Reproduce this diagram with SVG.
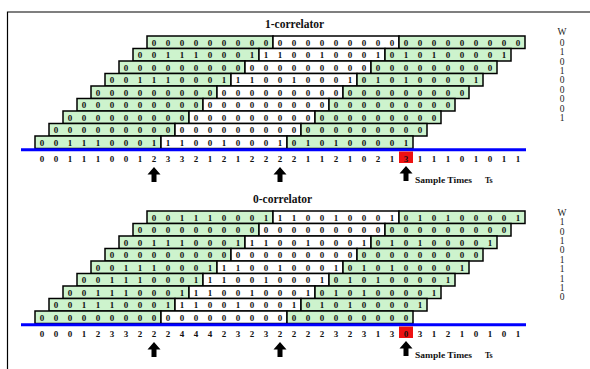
<svg xmlns="http://www.w3.org/2000/svg" xmlns:xlink="http://www.w3.org/1999/xlink" width="590" height="369" viewBox="0 0 590 369">
<style>
.g{fill:#cdf3cd;stroke:#000;stroke-width:1.5}
.w{fill:#fff;stroke:#000;stroke-width:1.5}
.d{font-family:"Liberation Serif","DejaVu Serif",serif;font-weight:bold;font-size:9px;text-anchor:middle;fill:#111}
.n{font-family:"Liberation Serif","DejaVu Serif",serif;font-weight:bold;font-size:9px;text-anchor:middle;fill:#111}
.t{font-family:"Liberation Serif","DejaVu Serif",serif;font-weight:bold;font-size:11.5px;fill:#111}
.wc{font-family:"Liberation Serif","DejaVu Serif",serif;font-size:9.5px;text-anchor:middle;fill:#222}
.s{font-family:"Liberation Serif","DejaVu Serif",serif;font-weight:bold;font-size:8px;fill:#111}
.blue{stroke:#0000ff;stroke-width:3}
.frame{stroke:#000;stroke-width:1.2;fill:none}
</style>
<defs>
<g id="rowA">
<rect class="g" x="0" y="0" width="126" height="12.5"/>
<rect class="w" x="126" y="0" width="126" height="12.5"/>
<rect class="g" x="252" y="0" width="126" height="12.5"/>
<text class="d" x="7 21 35 49 63 77 91 105 119" y="9.5">001110001</text>
<text class="d" x="133 147 161 175 189 203 217 231 245" y="9.5">110010001</text>
<text class="d" x="259 273 287 301 315 329 343 357 371" y="9.5">010100001</text>
</g>
<g id="rowZ">
<rect class="g" x="0" y="0" width="126" height="12.5"/>
<rect class="w" x="126" y="0" width="126" height="12.5"/>
<rect class="g" x="252" y="0" width="126" height="12.5"/>
<text class="d" x="7 21 35 49 63 77 91 105 119" y="9.5">000000000</text>
<text class="d" x="133 147 161 175 189 203 217 231 245" y="9.5">000000000</text>
<text class="d" x="259 273 287 301 315 329 343 357 371" y="9.5">000000000</text>
</g>
<path id="arr" d="M0,0 L6.5,7.5 L2.5,7.5 L2.5,15 L-2.5,15 L-2.5,7.5 L-6.5,7.5 Z" fill="#000"/>
</defs>

<g id="frame">
<path class="frame" d="M7.5,369 L7.5,12 L590,12"/>
</g>

<g id="one-correlator">
<text class="t" x="265" y="28">1-correlator</text>
<g id="r1-0"><use xlink:href="#rowZ" x="147" y="36"/></g>
<g id="r1-1"><use xlink:href="#rowA" x="133" y="48.5"/></g>
<g id="r1-2"><use xlink:href="#rowZ" x="119" y="61"/></g>
<g id="r1-3"><use xlink:href="#rowA" x="105" y="73.5"/></g>
<g id="r1-4"><use xlink:href="#rowZ" x="91" y="86"/></g>
<g id="r1-5"><use xlink:href="#rowZ" x="77" y="98.5"/></g>
<g id="r1-6"><use xlink:href="#rowZ" x="63" y="111"/></g>
<g id="r1-7"><use xlink:href="#rowZ" x="49" y="123.5"/></g>
<g id="r1-8"><use xlink:href="#rowA" x="35" y="136"/></g>
<line class="blue" x1="21" y1="149.8" x2="526" y2="149.8"/>
<rect x="399" y="151.5" width="14" height="11.5" fill="#ee1111"/>
<text class="n" x="42 56 70 84 98 112 126 140 154 168 182 196 210 224 238 252 266 280 294 308 322 336 350 364 378 392 406 420 434 448 462 476 490 504 518" y="161.5">00111001233212122221121021311101011</text>
<use xlink:href="#arr" x="154" y="167"/>
<use xlink:href="#arr" x="280" y="167"/>
<use xlink:href="#arr" x="406" y="166"/>
<text class="s" x="415" y="183" textLength="57" lengthAdjust="spacingAndGlyphs">Sample Times</text>
<text class="s" x="485" y="183">Ts</text>
<g id="w1">
<text class="wc" x="562" y="35">W</text>
<text class="wc" x="562" y="45.8">0</text>
<text class="wc" x="562" y="55.2">1</text>
<text class="wc" x="562" y="64.6">0</text>
<text class="wc" x="562" y="74">1</text>
<text class="wc" x="562" y="83.4">0</text>
<text class="wc" x="562" y="92.8">0</text>
<text class="wc" x="562" y="102.2">0</text>
<text class="wc" x="562" y="111.6">0</text>
<text class="wc" x="562" y="121">1</text>
</g>
</g>

<g id="zero-correlator">
<text class="t" x="253" y="203">0-correlator</text>
<g id="r0-0"><use xlink:href="#rowA" x="147" y="211"/></g>
<g id="r0-1"><use xlink:href="#rowZ" x="133" y="223.5"/></g>
<g id="r0-2"><use xlink:href="#rowA" x="119" y="236"/></g>
<g id="r0-3"><use xlink:href="#rowZ" x="105" y="248.5"/></g>
<g id="r0-4"><use xlink:href="#rowA" x="91" y="261"/></g>
<g id="r0-5"><use xlink:href="#rowA" x="77" y="273.5"/></g>
<g id="r0-6"><use xlink:href="#rowA" x="63" y="286"/></g>
<g id="r0-7"><use xlink:href="#rowA" x="49" y="298.5"/></g>
<g id="r0-8"><use xlink:href="#rowZ" x="35" y="311"/></g>
<line class="blue" x1="21" y1="324.8" x2="526" y2="324.8"/>
<rect x="399" y="326.5" width="14" height="11.5" fill="#ee1111"/>
<text class="n" x="42 56 70 84 98 112 126 140 154 168 182 196 210 224 238 252 266 280 294 308 322 336 350 364 378 392 406 420 434 448 462 476 490 504 518" y="336.5">00012332224442323222232313031210101</text>
<use xlink:href="#arr" x="154" y="342"/>
<use xlink:href="#arr" x="280" y="342"/>
<use xlink:href="#arr" x="406" y="341"/>
<text class="s" x="415" y="358" textLength="57" lengthAdjust="spacingAndGlyphs">Sample Times</text>
<text class="s" x="485" y="358">Ts</text>
<g id="w0">
<text class="wc" x="562" y="216">W</text>
<text class="wc" x="562" y="225.2">1</text>
<text class="wc" x="562" y="234.6">0</text>
<text class="wc" x="562" y="244">1</text>
<text class="wc" x="562" y="253.4">0</text>
<text class="wc" x="562" y="262.8">1</text>
<text class="wc" x="562" y="272.2">1</text>
<text class="wc" x="562" y="281.6">1</text>
<text class="wc" x="562" y="291">1</text>
<text class="wc" x="562" y="300.4">0</text>
</g>
</g>
</svg>
